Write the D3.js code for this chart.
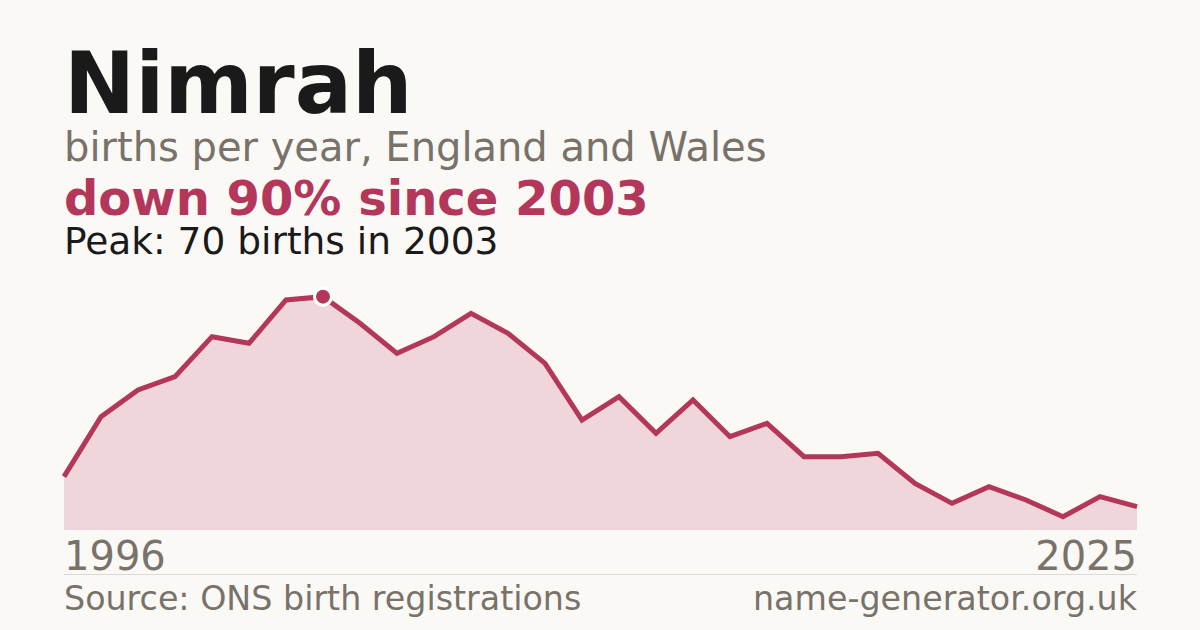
<!DOCTYPE html>
<html>
<head>
<meta charset="utf-8">
<script src="https://cdn.jsdelivr.net/npm/d3@7"></script>
<style>
  html, body { margin: 0; padding: 0; background: #faf9f5; }
  svg { display: block; font-family: "DejaVu Sans", sans-serif; }
</style>
</head>
<body>
<svg></svg>
<script>
// data
var years = d3.range(1996, 2026)
var births = [16, 34, 42, 46, 58, 56, 69, 70, 62, 53,
              58, 65, 59, 50, 33, 40, 29, 39, 28, 32,
              22, 22, 23, 14, 8, 13, 9, 4, 10, 7]
var peakYear = 2003
var peakValue = 70

var red = '#b3375a'
var grey = '#78726b'

var svg = d3.select('svg')
  .attr('width', 1200)
  .attr('height', 630)

svg.append('rect')
  .attr('width', 1200)
  .attr('height', 630)
  .attr('fill', '#faf9f5')

// scales
var x = d3.scaleLinear()
  .domain([years[0], years[years.length - 1]])
  .range([64, 1137])
var y = d3.scaleLinear()
  .domain([0, 75])
  .range([530, 280])

var data = years.map((yr, i) => ({ year: yr, value: births[i] }))

// area + line
var area = d3.area()
  .x(d => x(d.year))
  .y0(y(0))
  .y1(d => y(d.value))

var line = d3.line()
  .x(d => x(d.year))
  .y(d => y(d.value))

svg.append('path')
  .datum(data)
  .attr('d', area)
  .attr('fill', '#f0d5da')

svg.append('path')
  .datum(data)
  .attr('d', line)
  .attr('fill', 'none')
  .attr('stroke', red)
  .attr('stroke-width', 5)
  .attr('stroke-linejoin', 'miter')

// peak marker
svg.append('circle')
  .attr('cx', x(peakYear))
  .attr('cy', y(peakValue))
  .attr('r', 8.5)
  .attr('fill', red)
  .attr('stroke', '#fff')
  .attr('stroke-width', 3)

// titles
svg.append('text')
  .attr('x', 64).attr('y', 113)
  .attr('font-size', 85)
  .attr('font-weight', 'bold')
  .attr('fill', '#1a1a1a')
  .text('Nimrah')

svg.append('text')
  .attr('x', 64).attr('y', 161)
  .attr('font-size', 40)
  .attr('fill', grey)
  .text('births per year, England and Wales')

svg.append('text')
  .attr('x', 64).attr('y', 215)
  .attr('font-size', 48)
  .attr('font-weight', 'bold')
  .attr('fill', red)
  .text('down 90% since 2003')

svg.append('text')
  .attr('x', 64).attr('y', 254)
  .attr('font-size', 37.5)
  .attr('fill', '#1a1a1a')
  .text('Peak: ' + peakValue + ' births in ' + peakYear)

// year labels
svg.append('text')
  .attr('x', x(years[0])).attr('y', 570)
  .attr('font-size', 40)
  .attr('fill', grey)
  .text(years[0])

svg.append('text')
  .attr('x', x(years[years.length - 1])).attr('y', 570)
  .attr('font-size', 40)
  .attr('fill', grey)
  .attr('text-anchor', 'end')
  .text(years[years.length - 1])

// footer
svg.append('line')
  .attr('x1', 64).attr('x2', 1137)
  .attr('y1', 574.5).attr('y2', 574.5)
  .attr('stroke', '#ddd9d2')
  .attr('stroke-width', 1)

svg.append('text')
  .attr('x', 64).attr('y', 610)
  .attr('font-size', 33.3)
  .attr('fill', grey)
  .text('Source: ONS birth registrations')

svg.append('text')
  .attr('x', 1137).attr('y', 610)
  .attr('font-size', 33.3)
  .attr('fill', grey)
  .attr('text-anchor', 'end')
  .text('name-generator.org.uk')
</script>
</body>
</html>
